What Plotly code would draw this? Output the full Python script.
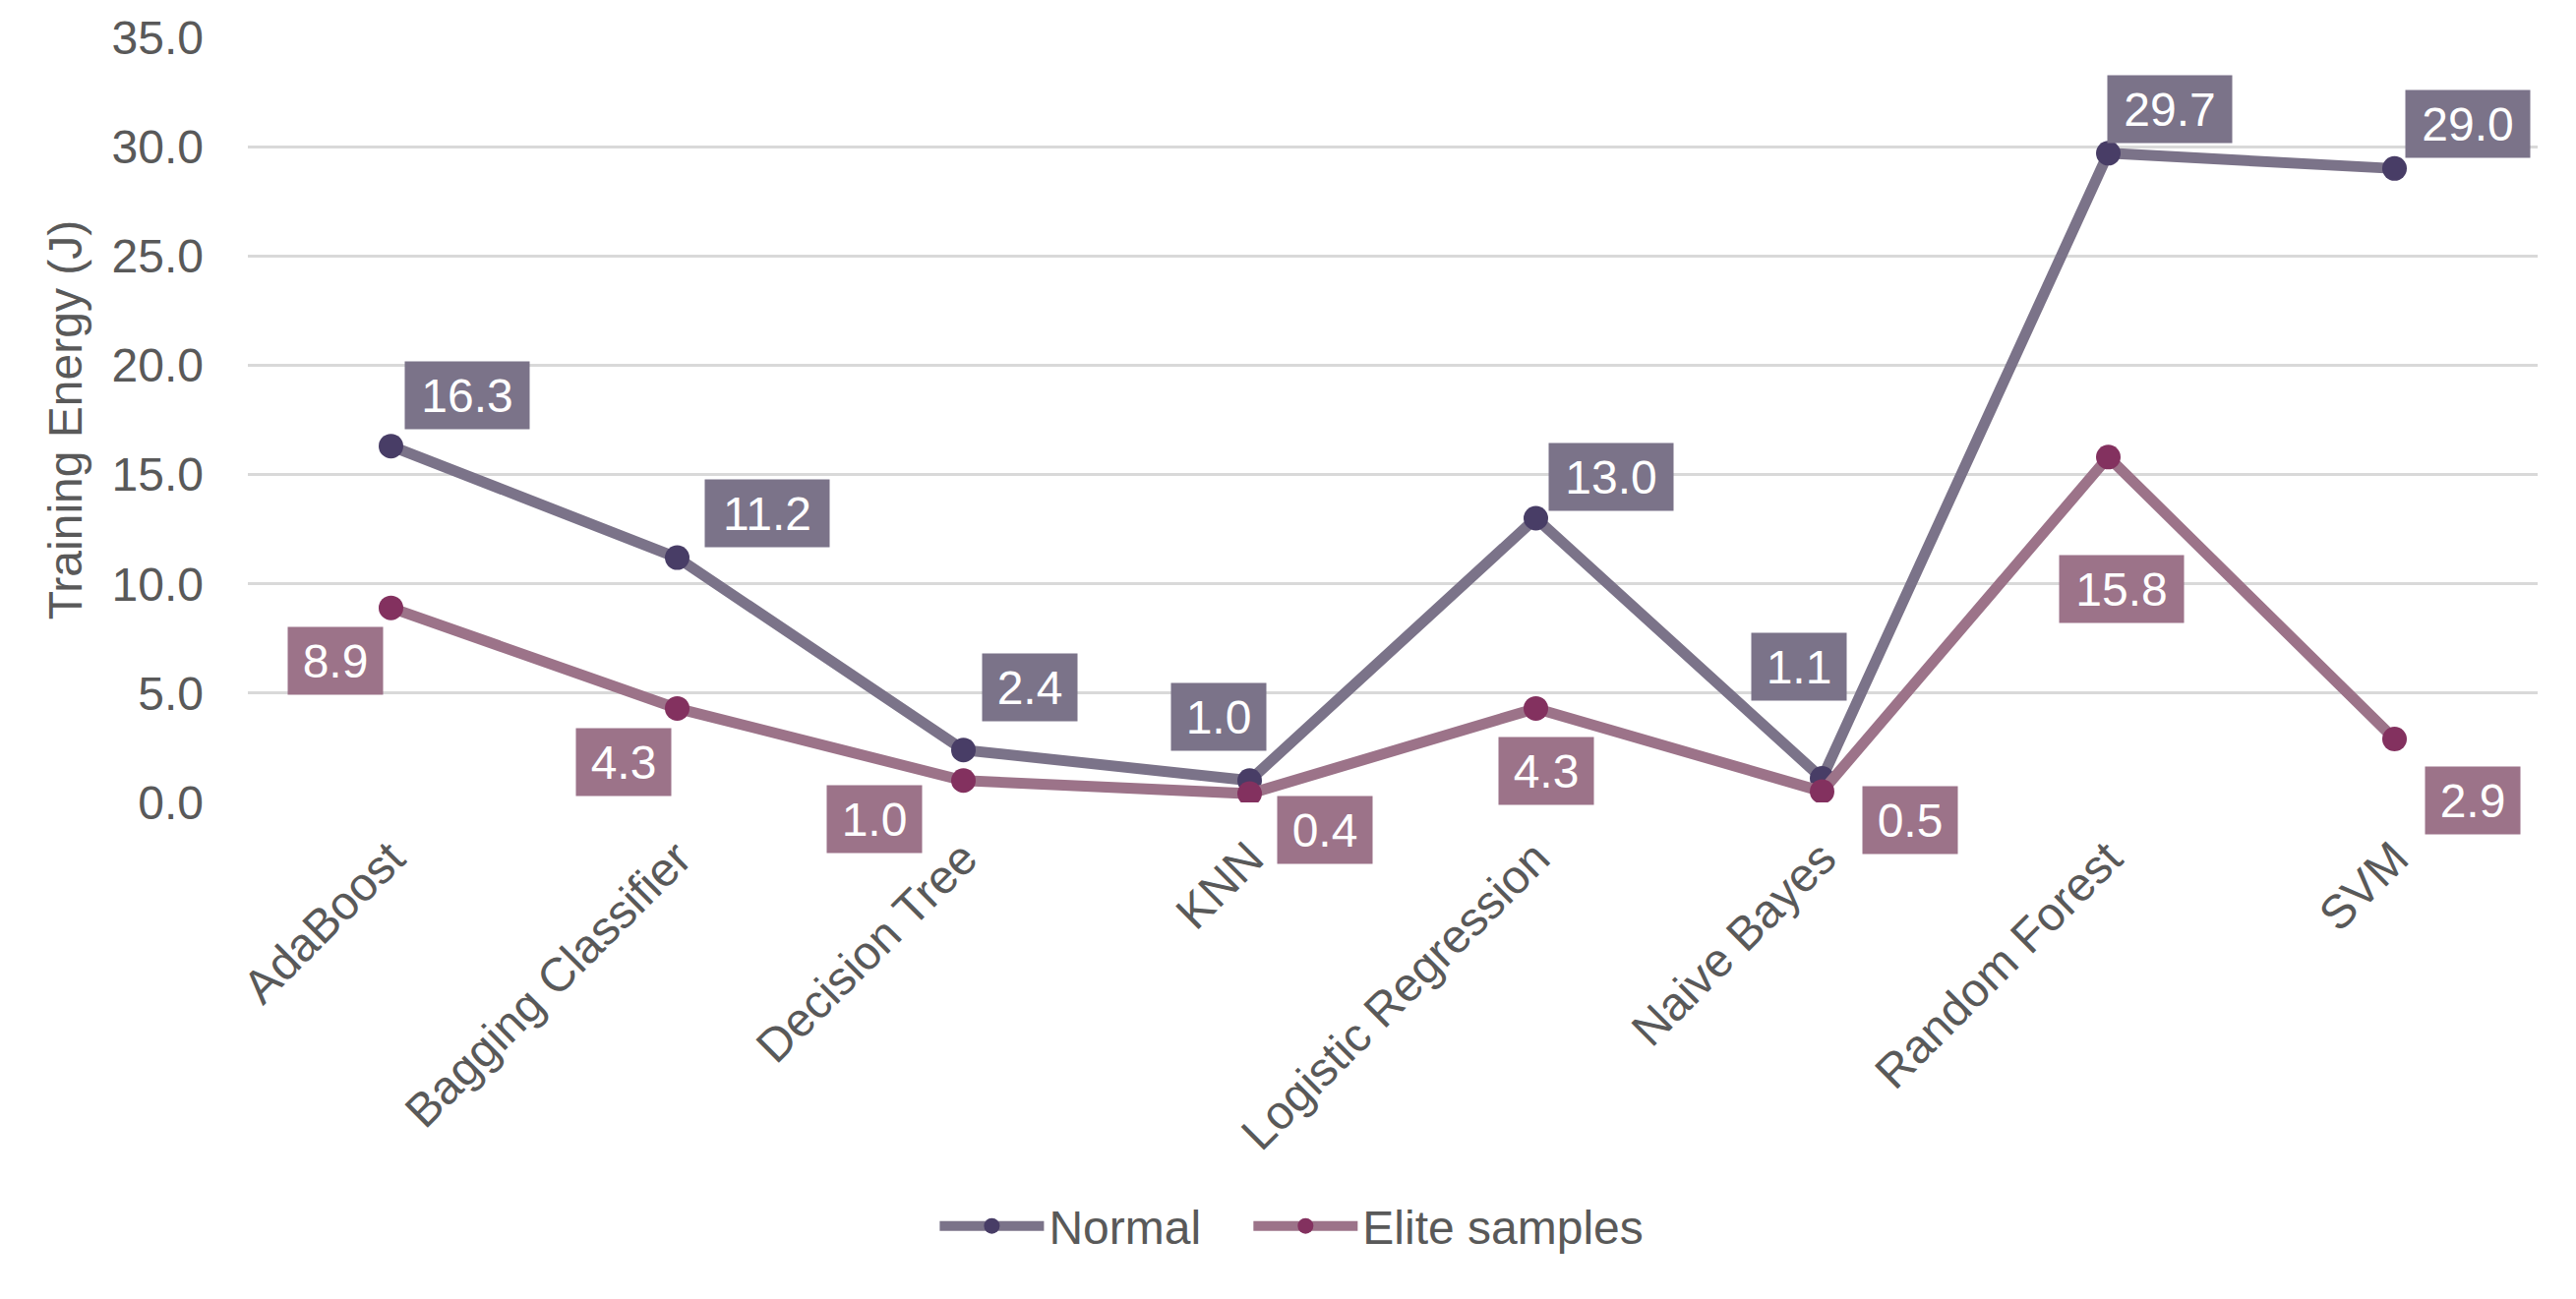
import plotly.graph_objects as go

categories = ["AdaBoost", "Bagging Classifier", "Decision Tree", "KNN",
              "Logistic Regression", "Naive Bayes", "Random Forest", "SVM"]
normal = [16.3, 11.2, 2.4, 1.0, 13.0, 1.1, 29.7, 29.0]
elite = [8.9, 4.3, 1.0, 0.4, 4.3, 0.5, 15.8, 2.9]
y_ticks = [0, 5, 10, 15, 20, 25, 30, 35]

# label offsets in px (xshift, yshift) - styling only
normal_off = [(77, 52), (91, 45), (67, 64), (-32, 65), (76, 42), (-24, 114), (62, 45), (74, 45)]
elite_off = [(-57, -54), (-55, -55), (-91, -39), (76, -37), (10, -64), (89, -29), (13, -134), (79, -62)]

FONT = "Liberation Sans, Arial, sans-serif"
N_LINE, N_MARK = "#7B7389", "#483D66"
E_LINE, E_MARK = "#9C7389", "#83315F"

fig = go.Figure()
fig.add_trace(go.Scatter(x=categories, y=normal, name="Normal", mode="lines+markers",
                         line=dict(color=N_LINE, width=11),
                         marker=dict(color=N_MARK, size=25), legend="legend"))
fig.add_trace(go.Scatter(x=categories, y=elite, name="Elite samples", mode="lines+markers",
                         line=dict(color=E_LINE, width=11),
                         marker=dict(color=E_MARK, size=25), legend="legend2"))

for vals, offs, col in ((normal, normal_off, N_LINE), (elite, elite_off, E_LINE)):
    for c, v, (dx, dy) in zip(categories, vals, offs):
        txt = f"{v:.1f}"
        fig.add_annotation(x=c, y=v, xref="x", yref="y", text=txt,
                           showarrow=False, xshift=dx, yshift=dy,
                           bgcolor=col, borderpad=5,
                           width=116 if len(txt) > 3 else 86, height=58,
                           font=dict(family=FONT, size=48, color="white"))

leg_common = dict(orientation="h", yanchor="middle", y=-0.554, xanchor="left",
                  font=dict(family=FONT, size=48, color="#595959"),
                  itemwidth=106, bgcolor="rgba(0,0,0,0)")

fig.update_layout(
    width=2619, height=1321,
    margin=dict(l=244, r=47, t=30, b=513, autoexpand=False),
    paper_bgcolor="white", plot_bgcolor="white",
    font=dict(family=FONT, size=48, color="#595959"),
    showlegend=True,
    legend=dict(x=0.300, **leg_common),
    legend2=dict(x=0.437, **leg_common),
    xaxis=dict(type="category", range=[-0.5, 7.5], showgrid=False, showline=False,
               zeroline=False, tickangle=-45, ticks="", ticklabelstandoff=18,
               tickfont=dict(family=FONT, size=48, color="#595959"), automargin=False),
    yaxis=dict(range=[0, 35], tickvals=y_ticks, ticktext=[f"{t:.1f}" for t in y_ticks],
               showgrid=True, gridcolor="#D9D9D9", gridwidth=3, zeroline=False,
               showline=False, ticks="", ticklabelstandoff=44,
               tickfont=dict(family=FONT, size=48, color="#595959"),
               title=dict(text="Training Energy (J)", standoff=14,
                          font=dict(family=FONT, size=48, color="#595959")),
               automargin=False),
)

fig.write_html("out.html")
